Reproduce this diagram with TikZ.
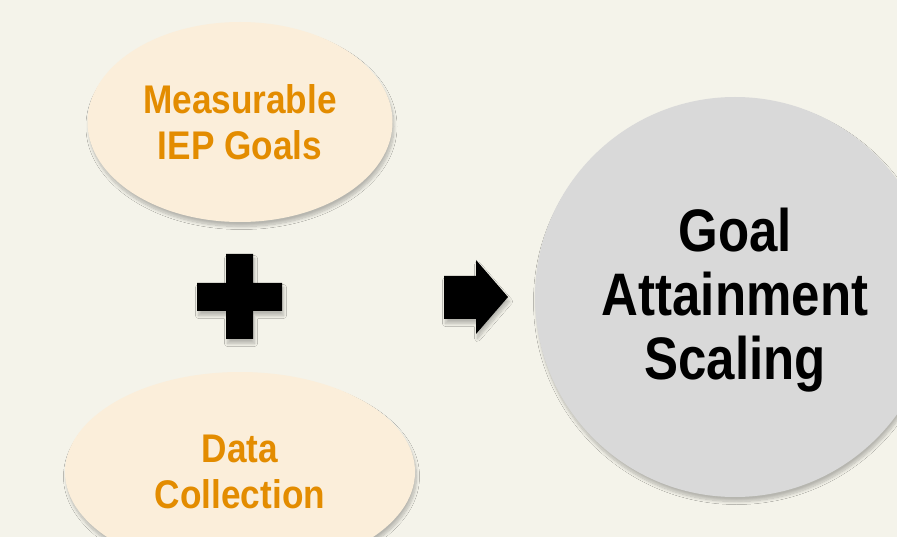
\documentclass[tikz,border=0pt]{standalone}
\usepackage{fontspec}
\setmainfont{Liberation Sans}
\newfontfamily\orfont[FakeStretch=0.88]{Liberation Sans}
\newfontfamily\bkfont[FakeStretch=0.85]{Liberation Sans}
\usetikzlibrary{shapes.geometric,shadows.blur}
\definecolor{bgc}{HTML}{F4F3EA}
\definecolor{cream}{HTML}{FBEEDA}
\definecolor{orangetxt}{HTML}{E38C00}
\definecolor{greyc}{HTML}{D9D9D9}
\begin{document}
\begin{tikzpicture}[x=1pt,y=-1pt,
  shd/.style={blur shadow={shadow xshift=1.5pt, shadow yshift=-4.5pt, shadow blur steps=10, shadow blur radius=3pt, shadow opacity=25}},
  ov/.style={ellipse, fill=cream, inner sep=0pt, align=center, text=orangetxt,
    font=\orfont\bfseries\fontsize{40}{46}\selectfont, shd},
  big/.style={circle, fill=greyc, inner sep=0pt, minimum size=400pt, align=center,
    font=\bkfont\bfseries\fontsize{60}{64}\selectfont, shd},
  sym/.style={fill=black, shd}]
\useasboundingbox (0,0) rectangle (897,537);
\clip (0,0) rectangle (897,537);
\fill[bgc] (0,0) rectangle (897,537);
\node[ov, minimum width=305pt, minimum height=200pt] (goals) at (240,122) {Measurable\\IEP Goals};
\node[ov, minimum width=350pt, minimum height=200pt] (data) at (240,472) {Data\\Collection};
\node[big] (gas) at (735,297) {};
\node[font=\bkfont\bfseries\fontsize{60}{64}\selectfont, align=center, inner sep=0pt, text depth=0pt] (gastext) at (735,294) {Goal\\Attainment\\Scaling};
\fill[sym] (226,254) -- (253,254) -- (253,283) -- (282,283) -- (282,311) -- (253,311) -- (253,339) -- (226,339) -- (226,311) -- (197,311) -- (197,283) -- (226,283) -- cycle;
\fill[sym] (444,276) -- (476,276) -- (476,260) -- (508,297) -- (476,334) -- (476,319) -- (444,319) -- cycle;
\end{tikzpicture}
\end{document}
